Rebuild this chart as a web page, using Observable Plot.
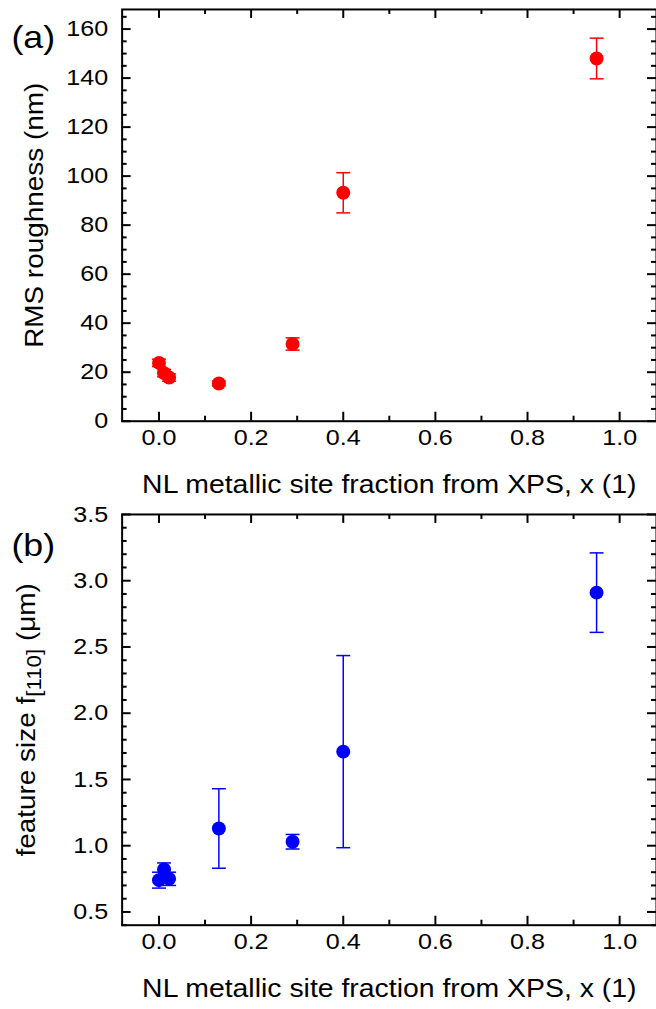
<!DOCTYPE html>
<html>
<head>
<meta charset="utf-8">
<script src="https://cdn.jsdelivr.net/npm/d3@7"></script>
<script src="https://cdn.jsdelivr.net/npm/@observablehq/plot@0.6"></script>
<style>
  html, body { margin: 0; padding: 0; background: #fff; overflow: hidden; }
  #wrap { width: 656px; height: 1009px; overflow: hidden; }
  #wrap svg { display: block; overflow: visible; }
</style>
</head>
<body>
<div id="wrap"></div>
<script>
// ---- data ----
const xFrac   = [0.0, 0.011, 0.022, 0.13, 0.29, 0.40, 0.95];
const rms     = [23.8, 19.6, 17.8, 15.4, 31.5, 93.2, 148.0];
const rmsErr  = [1.5, 1.5, 1.5, 1.0, 2.5, 8.2, 8.3];
const fSize   = [0.74, 0.82, 0.75, 1.13, 1.03, 1.71, 2.91];
const fErr    = [0.06, 0.05, 0.05, 0.30, 0.055, 0.725, 0.30];

const xMajor  = [0, 0.2, 0.4, 0.6, 0.8, 1.0];
const xMinor  = [0.1, 0.3, 0.5, 0.7, 0.9];
const yAMajor = [0, 20, 40, 60, 80, 100, 120, 140, 160];
const yAMinor = [5,10,15,25,30,35,45,50,55,65,70,75,85,90,95,105,110,115,125,130,135,145,150,155,165];
const yBMajor = [0.5, 1.0, 1.5, 2.0, 2.5, 3.0, 3.5];
const yBMinor = [0.4,0.6,0.7,0.8,0.9,1.1,1.2,1.3,1.4,1.6,1.7,1.8,1.9,2.1,2.2,2.3,2.4,2.6,2.7,2.8,2.9,3.1,3.2,3.3,3.4];

const xLabel = "NL metallic site fraction from XPS, x (1)";
const yALabel = "RMS roughness (nm)";
const yBLabel = "feature size f[110] (μm)";

const rowsA = xFrac.map((x, i) => ({x, y: rms[i], e: rmsErr[i]}));
const rowsB = xFrac.map((x, i) => ({x, y: fSize[i], e: fErr[i]}));

const FONT = "Liberation Sans, Arial, sans-serif";
const W = 658;
const STRETCH = 1.12;   // reference glyphs are wider than Arial metrics
const capSymbol = { draw(ctx) { ctx.moveTo(-7, 0); ctx.lineTo(7, 0); } };

function frameTicks(innerW, innerH, xMaj, xMin, yMaj, yMin) {
  const ML = 9, MN = 5, sw = 2;
  return [
    Plot.tickX(xMaj, {x: d => d, insetTop: innerH - ML, strokeWidth: sw}),
    Plot.tickX(xMaj, {x: d => d, insetBottom: innerH - ML, strokeWidth: sw}),
    Plot.tickX(xMin, {x: d => d, insetTop: innerH - MN, strokeWidth: sw}),
    Plot.tickX(xMin, {x: d => d, insetBottom: innerH - MN, strokeWidth: sw}),
    Plot.tickY(yMaj, {y: d => d, insetRight: innerW - ML, strokeWidth: sw}),
    Plot.tickY(yMaj, {y: d => d, insetLeft: innerW - ML, strokeWidth: sw}),
    Plot.tickY(yMin, {y: d => d, insetRight: innerW - MN, strokeWidth: sw}),
    Plot.tickY(yMin, {y: d => d, insetLeft: innerW - MN, strokeWidth: sw}),
  ];
}

function panel({rows, color, yDomain, yMaj, yMin, yLabel, yFmt, tag, height, mt, mb, tagDy, xOff, yOff}) {
  const ml = 122, mr = 0;
  const innerW = W - ml - mr, innerH = height - mt - mb;
  return Plot.plot({
    width: W, height,
    marginLeft: ml, marginRight: mr, marginTop: mt, marginBottom: mb,
    style: {fontFamily: FONT, fontSize: "22.5px", color: "#000", background: "#fff"},
    x: {domain: [-0.08, 1.08]},
    y: {domain: yDomain},
    marks: [
      Plot.axisX({ticks: xMajor, tickSize: 0, tickPadding: 8, tickFormat: d3.format(".1f"),
                  fontSize: 22.5, label: xLabel, labelAnchor: "center", labelOffset: xOff, labelArrow: "none"}),
      Plot.axisY({ticks: yMaj, tickSize: 0, tickPadding: 14, tickFormat: yFmt,
                  fontSize: 22.5, label: yLabel, labelAnchor: "center", labelOffset: yOff, labelArrow: "none"}),
      ...frameTicks(innerW, innerH, xMajor, xMinor, yMaj, yMin),
      Plot.frame({stroke: "#000", strokeWidth: 2}),
      Plot.ruleX(rows, {x: "x", y1: d => d.y - d.e, y2: d => d.y + d.e, stroke: color, strokeWidth: 1.5}),
      Plot.dot(rows, {x: "x", y: d => d.y + d.e, symbol: capSymbol, r: 5, fill: "none", stroke: color, strokeWidth: 1.5}),
      Plot.dot(rows, {x: "x", y: d => d.y - d.e, symbol: capSymbol, r: 5, fill: "none", stroke: color, strokeWidth: 1.5}),
      Plot.dot(rows, {x: "x", y: "y", r: 7, fill: color, stroke: null}),
      Plot.text([tag], {frameAnchor: "top-left", dx: -111, dy: tagDy, text: d => d, fontSize: 32, textAnchor: "start"})
    ]
  });
}

const wrap = document.getElementById("wrap");
const pa = panel({rows: rowsA, color: "#ff0000", yDomain: [0, 168], yMaj: yAMajor, yMin: yAMinor,
  yLabel: yALabel, yFmt: d3.format("d"), tag: "(a)", height: 505, mt: 9, mb: 83, tagDy: 16, xOff: 72, yOff: 97});
const pb = panel({rows: rowsB, color: "#0000ff", yDomain: [0.4, 3.5], yMaj: yBMajor, yMin: yBMinor,
  yLabel: yBLabel, yFmt: d3.format(".1f"), tag: "(b)", height: 504, mt: 11, mb: 81, tagDy: 19, xOff: 72, yOff: 105});
wrap.appendChild(pa);
wrap.appendChild(pb);

const ns = "http://www.w3.org/2000/svg";
wrap.querySelectorAll("text").forEach(t => {
  const s = t.textContent;
  if (s === xLabel || s === yALabel || s === yBLabel) t.style.fontSize = "25px";
  if (s === yBLabel) {
    t.textContent = "";
    const a = document.createElementNS(ns, "tspan"); a.textContent = "feature size f";
    const b = document.createElementNS(ns, "tspan"); b.textContent = "[110]";
    b.setAttribute("dy", "6"); b.setAttribute("font-size", "20");
    const c = document.createElementNS(ns, "tspan"); c.textContent = " (μm)";
    c.setAttribute("dy", "-6");
    t.appendChild(a); t.appendChild(b); t.appendChild(c);
  }
});
// widen glyphs to match the reference's broader lettering
wrap.querySelectorAll("text").forEach(t => {
  const s = t.textContent;
  const k = (s === xLabel) ? 1.14 : STRETCH;
  const L = t.getComputedTextLength();
  if (L > 0) {
    t.setAttribute("textLength", (L * k).toFixed(1));
    t.setAttribute("lengthAdjust", "spacingAndGlyphs");
  }
});
</script>
</body>
</html>
